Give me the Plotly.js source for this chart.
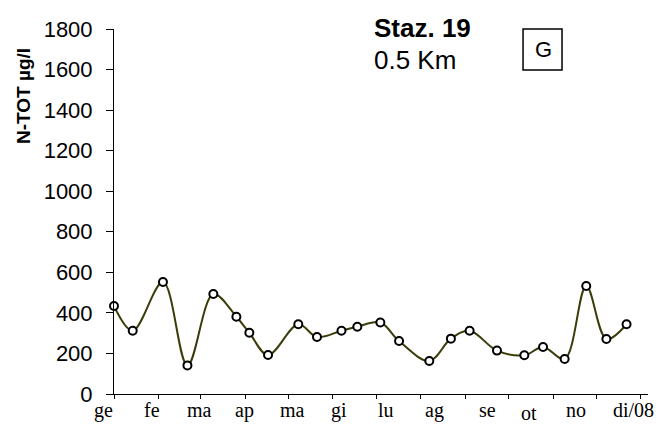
<!DOCTYPE html>
<html>
<head>
<meta charset="utf-8">
<script src="https://cdn.plot.ly/plotly-3.0.1.min.js"></script>
<style>html,body{margin:0;padding:0;background:#fff;}#chart{width:662px;height:425px;}</style>
</head>
<body>
<div id="chart"></div>
<script>
// sampling day (days since 1 Jan 2008)
const sampleDays = [0, 13, 34, 51, 69, 85, 94, 107, 128, 141, 158, 169, 185, 198, 219, 234, 247, 266, 285, 298, 313, 328, 342, 356];
// N-TOT values (µg/l)
const ntotValues = [434, 312, 552, 141, 493, 381, 302, 192, 344, 281, 312, 332, 353, 261, 163, 273, 312, 214, 191, 232, 173, 533, 271, 344];
// month boundaries (tick marks)
const monthStarts = [0, 31, 60, 91, 121, 152, 182, 213, 244, 274, 305, 335, 366];
// month labels and their positions (days)
const monthLabels = ['ge', 'fe', 'ma', 'ap', 'ma', 'gi', 'lu', 'ag', 'se', 'ot', 'no', 'di/08'];
const monthLabelPos = [-7, 26.1, 59.5, 90.6, 124.3, 156.2, 188.9, 222.9, 259.4, 288.2, 320.8, 361.1];
const monthLabelShift = [0, 0, 0, 0, 0, 0, 0, 0, 0, -3, 0, 0];

const xRange = [0, 370.9];
const yRange = [0, 1800];

const trace = {
  x: sampleDays,
  y: ntotValues,
  type: 'scatter',
  mode: 'lines+markers',
  line: {shape: 'spline', smoothing: 1, color: '#3c3c0a', width: 2},
  marker: {symbol: 'circle', size: 8, color: '#ffffff', line: {color: '#000000', width: 2}},
  cliponaxis: false,
  hoverinfo: 'x+y'
};

const toPaperX = d => (d - xRange[0]) / (xRange[1] - xRange[0]);

const annotations = monthLabels.map((t, i) => ({
  text: t, xref: 'paper', yref: 'paper',
  x: toPaperX(monthLabelPos[i]), y: -0.044, yshift: monthLabelShift[i],
  xanchor: 'center', yanchor: 'middle', showarrow: false, borderpad: 0,
  font: {family: 'Liberation Serif, Times New Roman, serif', size: 20, color: '#000'}
}));

annotations.push({
  text: '<b>N-TOT µg/l</b>', xref: 'paper', yref: 'paper', x: -0.1704, y: 0.8164,
  textangle: -90, xanchor: 'center', yanchor: 'middle', showarrow: false,
  font: {family: 'Liberation Sans, Arial, sans-serif', size: 19, color: '#000'}
});
annotations.push({
  text: '<b>Staz. 19</b>', xref: 'paper', yref: 'paper', x: 0.4831, y: 1.004,
  xanchor: 'left', yanchor: 'middle', showarrow: false,
  font: {family: 'Liberation Sans, Arial, sans-serif', size: 26, color: '#000'}
});
annotations.push({
  text: '0.5 Km', xref: 'paper', yref: 'paper', x: 0.4831, y: 0.915,
  xanchor: 'left', yanchor: 'middle', showarrow: false,
  font: {family: 'Liberation Sans, Arial, sans-serif', size: 26, color: '#000'}
});
annotations.push({
  text: 'G', xref: 'paper', yref: 'paper', x: 0.8034, y: 0.9438,
  xanchor: 'center', yanchor: 'middle', showarrow: false,
  font: {family: 'Liberation Sans, Arial, sans-serif', size: 22, color: '#000'}
});

const layout = {
  width: 662, height: 425,
  margin: {l: 114, r: 14, t: 29, b: 31},
  paper_bgcolor: '#fff', plot_bgcolor: '#fff',
  showlegend: false,
  xaxis: {
    range: xRange, tickmode: 'array', tickvals: monthStarts, showticklabels: false,
    ticks: 'outside', ticklen: 4, tickwidth: 1, tickcolor: '#000',
    showline: true, linecolor: '#000', linewidth: 1, showgrid: false, zeroline: false
  },
  yaxis: {
    range: yRange, tickmode: 'linear', tick0: 0, dtick: 200,
    ticks: 'outside', ticklen: 7, tickwidth: 1, tickcolor: '#000', ticklabelstandoff: 9,
    showline: true, linecolor: '#000', linewidth: 1, showgrid: false, zeroline: false,
    tickfont: {family: 'Liberation Sans, Arial, sans-serif', size: 22, color: '#000'}
  },
  shapes: [{
    type: 'rect', xref: 'paper', yref: 'paper', x0: 0.766, x1: 0.839, y0: 0.8877, y1: 1.0,
    line: {color: '#000', width: 1.5}, fillcolor: 'rgba(0,0,0,0)'
  }],
  annotations: annotations
};

Plotly.newPlot('chart', [trace], layout, {displayModeBar: false, staticPlot: true});
</script>
</body>
</html>
